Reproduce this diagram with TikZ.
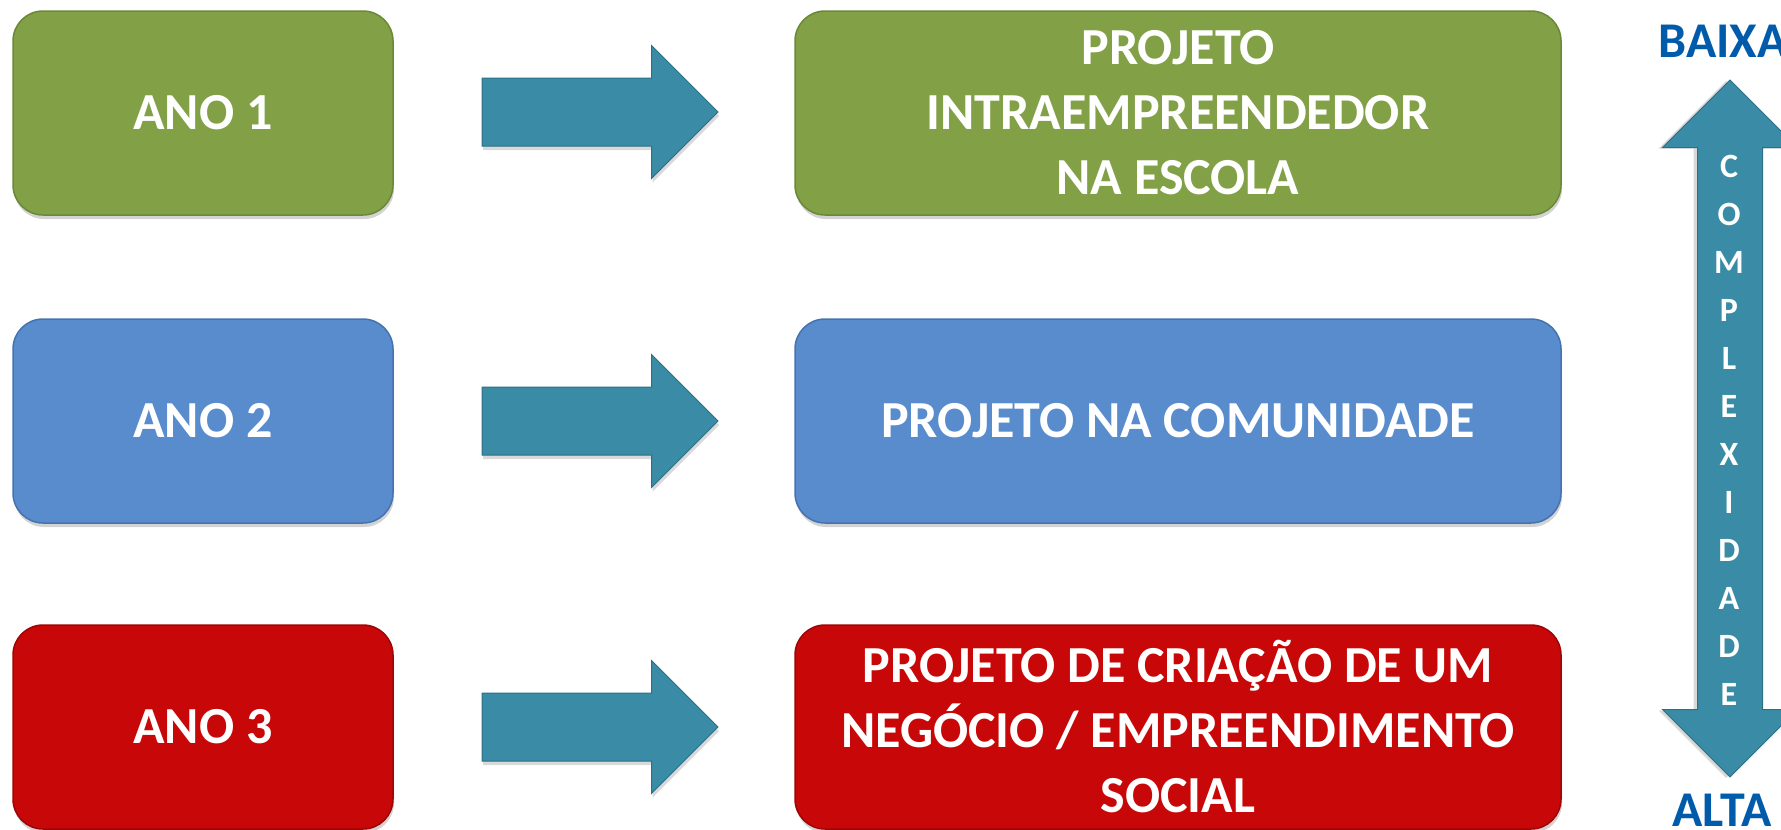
\documentclass[tikz,border=0pt]{standalone}
\usepackage{fontspec}
\setmainfont{Carlito}
\usetikzlibrary{shapes.arrows,shadows}

\definecolor{verde}{HTML}{82A046}
\definecolor{verdeEsc}{HTML}{6B8839}
\definecolor{azul}{HTML}{588CCD}
\definecolor{azulEsc}{HTML}{4673AE}
\definecolor{vermelho}{HTML}{C80808}
\definecolor{vermelhoEsc}{HTML}{9E0505}
\definecolor{petroleo}{HTML}{3A8CA6}
\definecolor{petroleoEsc}{HTML}{2C6F86}
\definecolor{azulTexto}{HTML}{005BAA}

\begin{document}
\begin{tikzpicture}[
        x=1pt,
        y=-1pt,
        caixa/.style={
            rectangle,
            rounded corners=30pt,
            minimum height=204pt,
            inner sep=0pt,
            text=white,
            align=center,
            font=\fontsize{52}{65}\selectfont\bfseries,
            line width=1.5pt,
            drop shadow={shadow xshift=1pt, shadow yshift=-4pt, opacity=.35},
        },
        ano/.style={
            caixa,
            minimum width=380pt,
        },
        projeto/.style={
            caixa,
            minimum width=766pt,
        },
        seta/.style={
            single arrow,
            single arrow head extend=32.5pt,
            minimum height=236pt,
            inner sep=0pt,
            inner ysep=33.5pt,
            fill=petroleo,
            draw=petroleoEsc,
            line width=1pt,
            drop shadow={shadow xshift=1pt, shadow yshift=-4pt, opacity=.3},
        },
        eixo/.style={
            double arrow,
            double arrow head extend=35pt,
            minimum height=697pt,
            inner sep=0pt,
            inner ysep=32pt,
            rotate=90,
            fill=petroleo,
            draw=petroleoEsc,
            line width=1pt,
            drop shadow={shadow xshift=-4pt, shadow yshift=-1pt, opacity=.3},
        },
        letra/.style={
            text=white,
            align=center,
            inner sep=0pt,
            font=\fontsize{34}{48}\selectfont\bfseries,
        },
        nivel/.style={
            text=azulTexto,
            inner sep=0pt,
            font=\fontsize{50}{60}\selectfont\bfseries,
        },
    ]

    \useasboundingbox (0, 0) rectangle (1781, 830);

    \node[ano, fill=verde, draw=verdeEsc]         (ano1) at (203, 113) {ANO 1};
    \node[ano, fill=azul, draw=azulEsc]           (ano2) at (203, 421) {ANO 2};
    \node[ano, fill=vermelho, draw=vermelhoEsc]   (ano3) at (203, 727) {ANO 3};

    \node[seta] (seta1) at (583, 112) {};
    \node[seta] (seta2) at (583, 421) {};
    \node[seta] (seta3) at (583, 727) {};

    \node[projeto, fill=verde, draw=verdeEsc]       (proj1) at (1178, 113) {PROJETO\\INTRAEMPREENDEDOR\\NA ESCOLA};
    \node[projeto, fill=azul, draw=azulEsc]         (proj2) at (1178, 421) {PROJETO NA COMUNIDADE};
    \node[projeto, fill=vermelho, draw=vermelhoEsc] (proj3) at (1178, 727) {PROJETO DE CRIAÇÃO DE UM\\NEGÓCIO / EMPREENDIMENTO\\SOCIAL};

    % escala de complexidade
    \node[eixo]  (eixo)  at (1730, 428.5) {};
    \node[letra] (compl) at (1729, 430) {C\\O\\M\\P\\L\\E\\X\\I\\D\\A\\D\\E};
    \node[nivel] (baixa) at (1723, 41)  {BAIXA};
    \node[nivel] (alta)  at (1722, 810) {ALTA};

\end{tikzpicture}
\end{document}
